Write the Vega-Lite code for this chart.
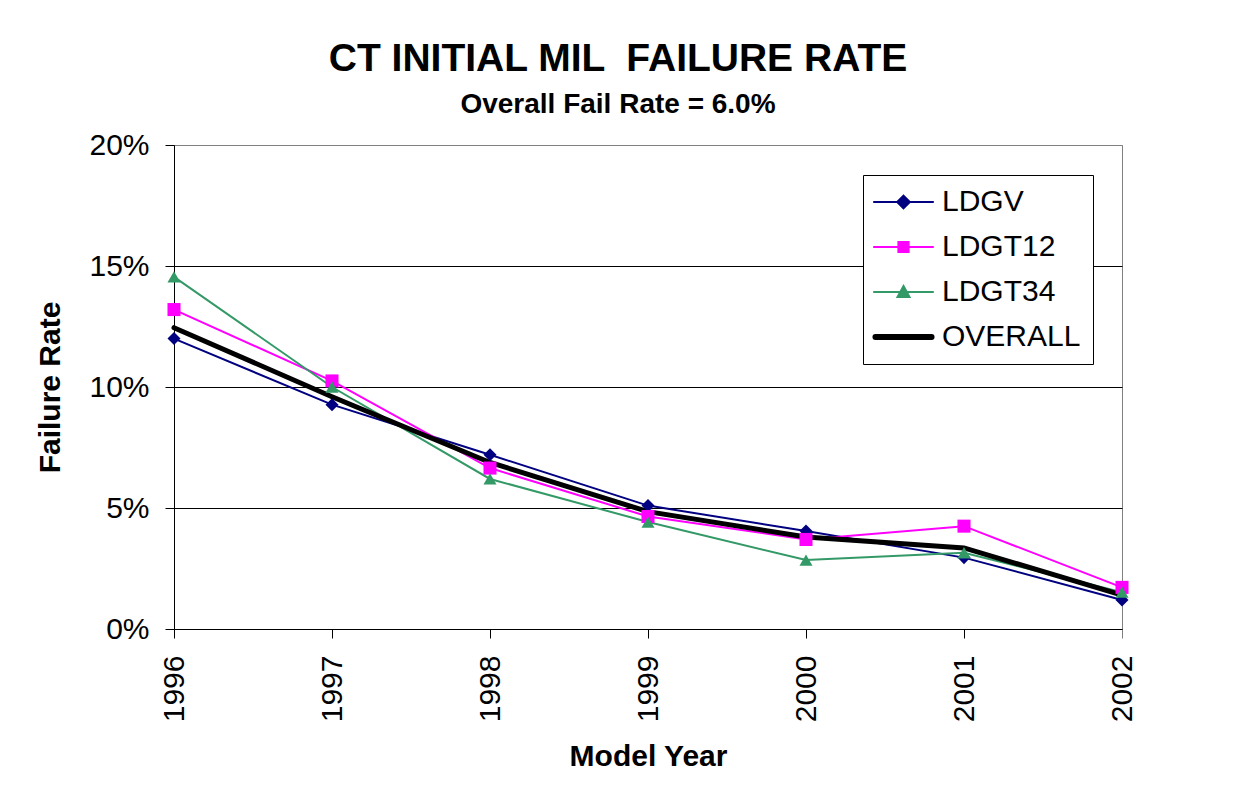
{
  "$schema": "https://vega.github.io/schema/vega-lite/v6.json",
  "autosize": {"type": "none"},
  "width": 948,
  "height": 484,
  "padding": {"left": 174, "top": 145, "right": 111, "bottom": 176},
  "background": "white",
  "title": {
    "text": "CT INITIAL MIL \u00a0FAILURE RATE",
    "subtitle": "Overall Fail Rate = 6.0%",
    "anchor": "middle",
    "frame": "group",
    "dx": -30,
    "offset": 11,
    "font": "Liberation Sans",
    "fontSize": 39,
    "fontWeight": "bold",
    "color": "black",
    "subtitleFont": "Liberation Sans",
    "subtitleFontSize": 28,
    "subtitleFontWeight": "bold",
    "subtitleColor": "black",
    "subtitlePadding": 12
  },
  "data": {
    "values": [
      {"year": 1996, "series": "LDGV", "rate": 0.1200},
      {"year": 1997, "series": "LDGV", "rate": 0.0927},
      {"year": 1998, "series": "LDGV", "rate": 0.0720},
      {"year": 1999, "series": "LDGV", "rate": 0.0510},
      {"year": 2000, "series": "LDGV", "rate": 0.0405},
      {"year": 2001, "series": "LDGV", "rate": 0.0295},
      {"year": 2002, "series": "LDGV", "rate": 0.0120},
      {"year": 1996, "series": "LDGT12", "rate": 0.1320},
      {"year": 1997, "series": "LDGT12", "rate": 0.1025},
      {"year": 1998, "series": "LDGT12", "rate": 0.0665},
      {"year": 1999, "series": "LDGT12", "rate": 0.0465},
      {"year": 2000, "series": "LDGT12", "rate": 0.0370},
      {"year": 2001, "series": "LDGT12", "rate": 0.0425},
      {"year": 2002, "series": "LDGT12", "rate": 0.0172},
      {"year": 1996, "series": "LDGT34", "rate": 0.1455},
      {"year": 1997, "series": "LDGT34", "rate": 0.1000},
      {"year": 1998, "series": "LDGT34", "rate": 0.0620},
      {"year": 1999, "series": "LDGT34", "rate": 0.0442},
      {"year": 2000, "series": "LDGT34", "rate": 0.0285},
      {"year": 2001, "series": "LDGT34", "rate": 0.0315},
      {"year": 2002, "series": "LDGT34", "rate": 0.0152},
      {"year": 1996, "series": "OVERALL", "rate": 0.1245},
      {"year": 1997, "series": "OVERALL", "rate": 0.0960},
      {"year": 1998, "series": "OVERALL", "rate": 0.0688},
      {"year": 1999, "series": "OVERALL", "rate": 0.0485},
      {"year": 2000, "series": "OVERALL", "rate": 0.0380},
      {"year": 2001, "series": "OVERALL", "rate": 0.0335},
      {"year": 2002, "series": "OVERALL", "rate": 0.0140}
    ]
  },
  "encoding": {
    "x": {
      "field": "year",
      "type": "quantitative",
      "scale": {"domain": [1996, 2002], "nice": false, "zero": false},
      "axis": {
        "title": "Model Year",
        "values": [1996, 1997, 1998, 1999, 2000, 2001, 2002],
        "format": "d",
        "labelAngle": -90,
        "labelFont": "Liberation Sans",
        "labelFontSize": 30,
        "labelColor": "black",
        "labelPadding": 17,
        "labelFlush": false,
        "labelOverlap": false,
        "tickSize": 9,
        "tickColor": {"condition": {"test": "datum.value >= 2002", "value": "#808080"}, "value": "black"},
        "domainColor": "black",
        "grid": false,
        "titleFont": "Liberation Sans",
        "titleFontSize": 30,
        "titleFontWeight": "bold",
        "titleColor": "black",
        "titlePadding": 20
      }
    },
    "y": {
      "field": "rate",
      "type": "quantitative",
      "scale": {"domain": [0, 0.2], "nice": false},
      "axis": {
        "title": "Failure Rate",
        "values": [0, 0.05, 0.1, 0.15, 0.2],
        "format": ".0%",
        "labelFont": "Liberation Sans",
        "labelFontSize": 30,
        "labelColor": "black",
        "labelPadding": 16,
        "labelFlush": false,
        "tickSize": 9,
        "tickColor": "black",
        "domainColor": "black",
        "grid": true,
        "gridColor": {"condition": {"test": "datum.value >= 0.2", "value": "#808080"}, "value": "black"},
        "gridWidth": 1,
        "titleFont": "Liberation Sans",
        "titleFontSize": 30,
        "titleFontWeight": "bold",
        "titleColor": "black",
        "titlePadding": 23
      }
    },
    "color": {
      "field": "series",
      "type": "nominal",
      "scale": {
        "domain": ["LDGV", "LDGT12", "LDGT34", "OVERALL"],
        "range": ["#000080", "#FF00FF", "#339966", "#000000"]
      },
      "legend": {
        "title": null,
        "orient": "none",
        "legendX": 689,
        "legendY": 30,
        "direction": "vertical",
        "labelFont": "Liberation Sans",
        "labelFontSize": 30,
        "labelColor": "black",
        "labelOffset": 37,
        "symbolSize": 900,
        "symbolType": "circle",
        "rowPadding": 15,
        "padding": 12,
        "strokeColor": "black",
        "fillColor": "white",
        "cornerRadius": 0,
        "encode": {
          "symbols": {
            "update": {
              "shape": {"signal": "datum.value === 'LDGV' ? 'M-1.07,0H2.87M0.9,-0.42L1.32,0L0.9,0.42L0.48,0Z' : datum.value === 'LDGT12' ? 'M-1.07,0H2.87M0.56,-0.34H1.24V0.34H0.56Z' : datum.value === 'LDGT34' ? 'M-1.07,0H2.87M0.9,-0.4L1.3,0.34L0.5,0.34Z' : 'M-0.97,0H2.77'"},
              "fill": {"signal": "datum.value === 'LDGV' ? '#000080' : datum.value === 'LDGT12' ? '#FF00FF' : datum.value === 'LDGT34' ? '#339966' : 'transparent'"},
              "stroke": {"signal": "datum.value === 'LDGV' ? '#000080' : datum.value === 'LDGT12' ? '#FF00FF' : datum.value === 'LDGT34' ? '#339966' : '#000000'"},
              "strokeWidth": {"signal": "datum.value === 'OVERALL' ? 6 : 2"},
              "strokeCap": {"value": "round"},
              "opacity": {"value": 1}
            }
          }
        }
      }
    }
  },
  "layer": [
    {
      "transform": [{"filter": "datum.series !== 'OVERALL'"}],
      "mark": {"type": "line", "strokeWidth": 2}
    },
    {
      "transform": [{"filter": "datum.series === 'OVERALL'"}],
      "mark": {"type": "line", "strokeWidth": 5, "strokeCap": "round"}
    },
    {
      "transform": [{"filter": "datum.series !== 'OVERALL'"}],
      "mark": {"type": "point", "filled": true, "opacity": 1, "size": 170},
      "encoding": {
        "shape": {
          "field": "series",
          "type": "nominal",
          "scale": {"domain": ["LDGV", "LDGT12", "LDGT34"], "range": ["diamond", "square", "triangle-up"]},
          "legend": null
        }
      }
    }
  ],
  "config": {
    "view": {"stroke": "#808080", "strokeWidth": 1}
  }
}
